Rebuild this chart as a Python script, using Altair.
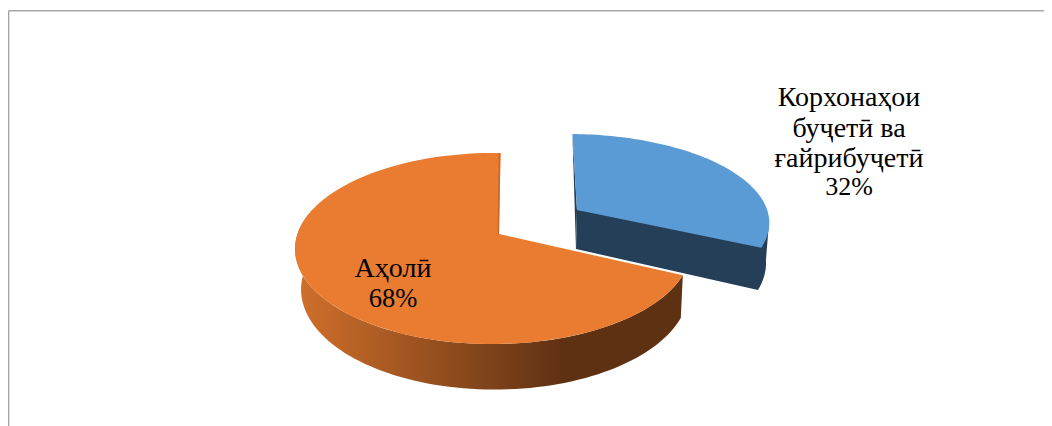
import math
import altair as alt
import pandas as pd

# Data
categories = ["Корхонаҳои буҷетӣ ва ғайрибуҷетӣ", "Аҳолӣ"]
shares = [32, 68]
name_lines_blue = ["Корхонаҳои", "буҷетӣ ва", "ғайрибуҷетӣ"]
name_lines_orange = ["Аҳолӣ"]
percent_blue = ["32%"]
percent_orange = ["68%"]

W, H = 1036, 418
FONT = "'Liberation Serif', 'Times New Roman', serif"
BLUE, BLUE_DARK = "#5B9BD5", "#243F57"
ORANGE = "#E97C30"
GRID = "#A6A6A6"

q = 0.152
cut = shares[0] / sum(shares) * 360


def rim(theta, cx, cy, A, B, r):
    t = math.radians(theta)
    s, c = math.sin(t), math.cos(t)
    d = 1 + q * c + r * s
    return (cx + A * s / d, cy - B * c / d)


def arc(start, end, p, n=90):
    return [rim(start + (end - start) * i / n, *p) for i in range(n + 1)]


# projection parameters: centre x, centre y, x radius, y radius, skew
O_TOP = (499, 234, 195.5, 93.3, 0.03)
O_BOT = (498, 274, 191.7, 98, 0.015)
B_TOP = (577, 210, 201, 87.5, 0.057)
B_BOT = (576, 249, 195.4, 93.5, 0.04)
O_START = 360.5
B_START = -1.5

scale_x = alt.Scale(domain=[8, 8 + W])
scale_y = alt.Scale(domain=[8 + H, 8])


def poly(points, **mark):
    df = pd.DataFrame(points, columns=["x", "y"])
    df["i"] = range(len(df))
    return (
        alt.Chart(df)
        .mark_line(strokeWidth=0, **mark)
        .encode(
            x=alt.X("x:Q", scale=scale_x, axis=None),
            y=alt.Y("y:Q", scale=scale_y, axis=None),
            order=alt.Order("i:Q"),
        )
    )


wall_gradient = alt.Gradient(
    gradient="linear", x1=0, x2=1, y1=0, y2=0,
    stops=[
        alt.GradientStop(offset=0, color="#D1702B"),
        alt.GradientStop(offset=0.69, color="#5F3113"),
        alt.GradientStop(offset=1, color="#5F3113"),
    ],
)

orange_wall = poly(
    arc(cut, 285, O_TOP) + arc(285, cut, O_BOT), fill=wall_gradient
)
orange_top = poly(
    [(O_TOP[0], O_TOP[1])] + arc(cut, O_START, O_TOP), fill=ORANGE
)
orange_strip = poly(
    [rim(O_START, *O_TOP), (O_TOP[0], O_TOP[1]), (O_TOP[0] - 1.5, O_TOP[1]),
     rim(O_START - 0.6, *O_TOP)],
    fill="#C76A28",
)

blue_dark = poly(
    [(B_TOP[0], B_TOP[1]), rim(97, *B_TOP)] + arc(97, cut, B_BOT) + [(B_BOT[0], B_BOT[1])],
    fill=BLUE_DARK,
)
blue_sliver = poly(
    [rim(B_START, *B_TOP), (B_BOT[0], B_BOT[1]), (B_TOP[0], B_TOP[1])], fill=BLUE_DARK
)
blue_top = poly([(B_TOP[0], B_TOP[1])] + arc(B_START, cut, B_TOP), fill=BLUE)

frame = pd.DataFrame({"x": [8.6], "x2": [8 + W], "y": [10.7], "y2": [8 + H]})
top_rule = alt.Chart(frame).mark_rule(color=GRID, strokeWidth=1.5).encode(
    x=alt.X("x:Q", scale=scale_x, axis=None), x2="x2:Q",
    y=alt.Y("y:Q", scale=scale_y, axis=None),
)
left_rule = alt.Chart(frame).mark_rule(color=GRID, strokeWidth=1.5).encode(
    x=alt.X("x:Q", scale=scale_x, axis=None),
    y=alt.Y("y:Q", scale=scale_y, axis=None), y2="y2:Q",
)


def text_layer(lines, x, baselines, size):
    df = pd.DataFrame({"t": lines, "x": [x] * len(lines), "y": baselines})
    return alt.Chart(df).mark_text(
        font=FONT, fontSize=size, color="#000000", align="center", baseline="alphabetic"
    ).encode(
        x=alt.X("x:Q", scale=scale_x, axis=None),
        y=alt.Y("y:Q", scale=scale_y, axis=None),
        text="t:N",
    )


chart = alt.layer(
    top_rule, left_rule,
    blue_sliver, blue_dark, blue_top,
    orange_wall, orange_top, orange_strip,
    text_layer(name_lines_blue, 849, [106, 137, 167], 28),
    text_layer(percent_blue, 849, [195], 26),
    text_layer(name_lines_orange, 393, [277], 28),
    text_layer(percent_orange, 393, [307], 26.5),
).properties(
    width=W, height=H, padding=0,
    autosize=alt.AutoSizeParams(type="none"),
).configure_view(stroke=None)

chart.save("out.html", embed_options={"renderer": "svg", "actions": False})
